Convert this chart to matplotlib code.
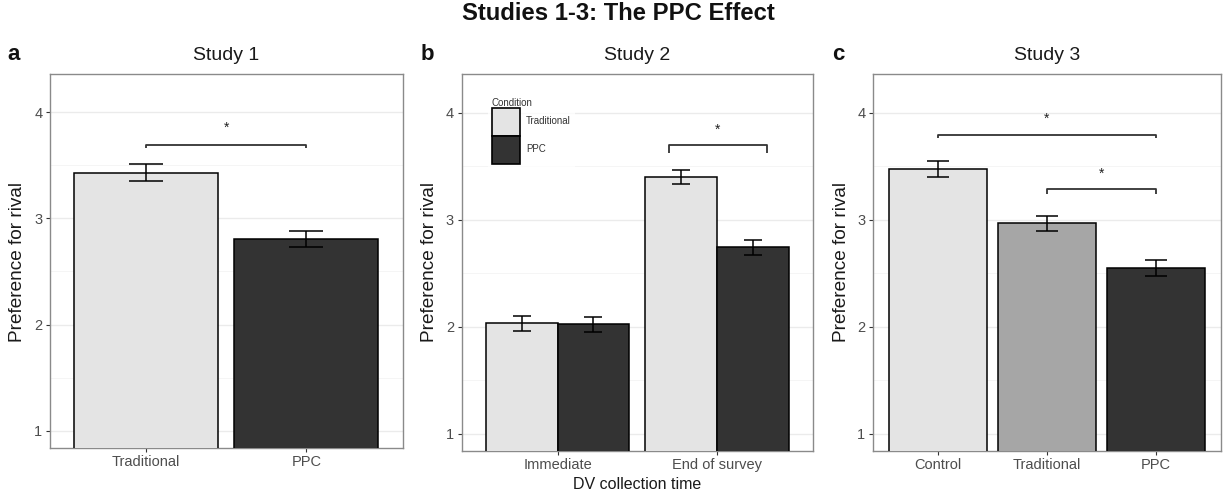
import matplotlib
matplotlib.use("Agg")
import matplotlib.pyplot as plt
from matplotlib.patches import Patch
from matplotlib.ticker import MultipleLocator

plt.rcParams['font.family'] = ['Liberation Sans', 'DejaVu Sans']

# ---------------- data ----------------
s1_conditions = ['Traditional', 'PPC']
s1_means = [3.43, 2.81]
s1_se = [0.08, 0.075]

s2_times = ['Immediate', 'End of survey']
s2_trad = [2.03, 3.40]
s2_ppc = [2.02, 2.74]
s2_trad_se = [0.07, 0.065]
s2_ppc_se = [0.07, 0.07]

s3_conditions = ['Control', 'Traditional', 'PPC']
s3_means = [3.475, 2.965, 2.545]
s3_se = [0.075, 0.07, 0.075]

# significance brackets: (x0, x1, y, drop_to, star_y)
s1_sig = [(0, 1, 3.69, 3.66, 3.85)]
s2_sig = [(0.70, 1.31, 3.70, 3.62, 3.84)]
s3_sig = [(0, 2, 3.79, 3.76, 3.94), (1, 2, 3.29, 3.24, 3.43)]

yticks = [1, 2, 3, 4]
ylim = (0.84, 4.36)

LIGHT, MID, DARK = '#e4e4e4', '#a6a6a6', '#333333'

W, H = 1224, 490
fig = plt.figure(figsize=(W / 100, H / 100), dpi=100)


def px_axes(l, t, r, b):
    return fig.add_axes([l / W, 1 - b / H, (r - l) / W, (b - t) / H])


def style(ax):
    ax.set_ylim(*ylim)
    ax.set_yticks(yticks)
    ax.yaxis.set_minor_locator(MultipleLocator(0.5))
    ax.grid(True, which='major', axis='y', color='#ebebeb', lw=1.0, zorder=0)
    ax.grid(True, which='minor', axis='y', color='#f4f4f4', lw=0.6, zorder=0)
    ax.set_axisbelow(True)
    for s in ax.spines.values():
        s.set_color('#8a8a8a')
        s.set_linewidth(1.0)
    ax.tick_params(axis='both', which='major', length=3, width=0.8, color='#333333',
                   labelcolor='#4d4d4d', labelsize=10.5, pad=2.5)
    ax.tick_params(axis='y', which='minor', length=0)


def brackets(ax, sigs):
    for x0, x1, y, yd, ys in sigs:
        ax.plot([x0, x0, x1, x1], [yd, y, y, yd], color='#333333', lw=1.3, zorder=4,
                solid_capstyle='butt')
        ax.text((x0 + x1) / 2, ys, '*', ha='center', va='center', fontsize=10,
                color='#222222')


eb_kw = dict(fmt='none', ecolor='black', elinewidth=1.1, capthick=1.1, zorder=5)

# ---------------- panel a ----------------
ax1 = px_axes(50, 74, 402.5, 447.7)
x1 = list(range(len(s1_conditions)))
ax1.bar(x1, s1_means, width=0.9, color=[LIGHT, DARK], edgecolor='black', lw=1.1,
        zorder=3)
ax1.errorbar(x1, s1_means, yerr=s1_se, capsize=12, **eb_kw)
ax1.set_xlim(-0.6, len(s1_conditions) - 0.4)
ax1.set_xticks(x1)
ax1.set_xticklabels(s1_conditions)
style(ax1)
brackets(ax1, s1_sig)

# ---------------- panel b ----------------
ax2 = px_axes(461.7, 74, 813, 450.7)
x2 = list(range(len(s2_times)))
bw = 0.45
xt = [x - bw / 2 for x in x2]
xp = [x + bw / 2 for x in x2]
ax2.bar(xt, s2_trad, width=bw, color=LIGHT, edgecolor='black', lw=1.1, zorder=3,
        label='Traditional')
ax2.bar(xp, s2_ppc, width=bw, color=DARK, edgecolor='black', lw=1.1, zorder=3,
        label='PPC')
ax2.errorbar(xt, s2_trad, yerr=s2_trad_se, capsize=6.5, **eb_kw)
ax2.errorbar(xp, s2_ppc, yerr=s2_ppc_se, capsize=6.5, **eb_kw)
ax2.set_xlim(-0.6, len(s2_times) - 0.4)
ax2.set_xticks(x2)
ax2.set_xticklabels(s2_times)
style(ax2)
brackets(ax2, s2_sig)

handles = [Patch(facecolor=LIGHT, edgecolor='black', lw=1.2),
           Patch(facecolor=DARK, edgecolor='black', lw=1.2)]
leg = ax2.legend(handles, ['Traditional', 'PPC'], title='Condition',
                 loc='upper left', bbox_to_anchor=(488 / W, 1 - 94 / H),
                 bbox_transform=fig.transFigure, fontsize=7, title_fontsize=7,
                 handlelength=2.9, handleheight=4.05, labelspacing=0.0,
                 handletextpad=0.6, borderpad=0.4, borderaxespad=0,
                 frameon=True, fancybox=False, alignment='left')
leg.get_frame().set_facecolor('white')
leg.get_frame().set_edgecolor('none')
leg.get_title().set_color('#333333')
for t in leg.get_texts():
    t.set_color('#333333')

# ---------------- panel c ----------------
ax3 = px_axes(873, 74, 1221, 450.7)
x3 = list(range(len(s3_conditions)))
ax3.bar(x3, s3_means, width=0.9, color=[LIGHT, MID, DARK], edgecolor='black', lw=1.1,
        zorder=3)
ax3.errorbar(x3, s3_means, yerr=s3_se, capsize=8, **eb_kw)
ax3.set_xlim(-0.6, len(s3_conditions) - 0.4)
ax3.set_xticks(x3)
ax3.set_xticklabels(s3_conditions)
style(ax3)
brackets(ax3, s3_sig)

# ---------------- texts ----------------
def ftext(x, y, s, **kw):
    fig.text(x / W, 1 - y / H, s, **kw)

ftext(618, 13, 'Studies 1-3: The PPC Effect', ha='center', va='center',
      fontsize=17.2, fontweight='bold', color='#111111')
for cx, title in [(226, 'Study 1'), (637, 'Study 2'), (1047, 'Study 3')]:
    ftext(cx, 55, title, ha='center', va='center', fontsize=14, color='#1a1a1a')
for cx, lab in [(14, 'a'), (427, 'b'), (838, 'c')]:
    ftext(cx, 55, lab, ha='center', va='center', fontsize=16, fontweight='bold',
          color='#111111')
for cx, cy in [(17.5, 262), (429.5, 262), (841, 262)]:
    ftext(cx, cy, 'Preference for rival', ha='center', va='center', rotation=90,
          rotation_mode='anchor', fontsize=13.7, color='#1a1a1a')
ftext(637, 484, 'DV collection time', ha='center', va='center', fontsize=11.5,
      color='#1a1a1a')

fig.savefig('out.png', dpi=100, facecolor='white')
